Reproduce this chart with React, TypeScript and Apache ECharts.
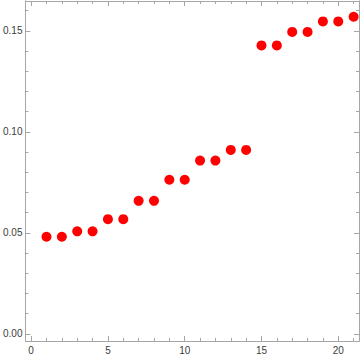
import React, { useEffect, useRef } from "react";
import * as echarts from "echarts";

const xValues = [1, 2, 3, 4, 5, 6, 7, 8, 9, 10, 11, 12, 13, 14, 15, 16, 17, 18, 19, 20, 21];
const yValues = [0.0481, 0.0481, 0.0508, 0.0508, 0.0568, 0.0568, 0.0659, 0.0659, 0.0763, 0.0763, 0.0858, 0.0858, 0.0911, 0.0911, 0.1428, 0.1428, 0.1495, 0.1495, 0.1547, 0.1547, 0.157];
const xMajor = [0, 5, 10, 15, 20];
const xMinor = [1, 2, 3, 4, 6, 7, 8, 9, 11, 12, 13, 14, 16, 17, 18, 19, 21];
const yMajor = [0, 0.05, 0.1, 0.15];
const yMinor = [0.01, 0.02, 0.03, 0.04, 0.06, 0.07, 0.08, 0.09, 0.11, 0.12, 0.13, 0.14, 0.16];

const X_MIN = -0.37, X_MAX = 21.35, Y_MIN = -0.0035, Y_MAX = 0.1648;
const frame = "#a6a6a6";
const labelColor = "#3c3c3c";

export default function App() {
  const ref = useRef<HTMLDivElement>(null);
  useEffect(() => {
    if (!ref.current) return;
    const chart = echarts.init(ref.current, undefined, { renderer: "svg" });
    const xAxis = (pos: string, ticks: number[], len: number, labels: boolean) => ({
      type: "value", position: pos, min: X_MIN, max: X_MAX, scale: true,
      axisLine: { show: true, onZero: false, lineStyle: { color: frame, width: 1 } },
      axisTick: { show: true, inside: true, length: len, customValues: ticks, lineStyle: { color: frame } },
      axisLabel: labels
        ? { show: true, customValues: xMajor, color: labelColor, fontSize: 10, fontFamily: "Liberation Sans", margin: 4, formatter: (v: number) => String(v) }
        : { show: false },
      splitLine: { show: false },
    });
    const yAxis = (pos: string, ticks: number[], len: number, labels: boolean) => ({
      type: "value", position: pos, min: Y_MIN, max: Y_MAX, scale: true,
      axisLine: { show: true, onZero: false, lineStyle: { color: frame, width: 1 } },
      axisTick: { show: true, inside: true, length: len, customValues: ticks, lineStyle: { color: frame } },
      axisLabel: labels
        ? { show: true, customValues: yMajor, color: labelColor, fontSize: 10, fontFamily: "Liberation Sans", margin: 3, formatter: (v: number) => v.toFixed(2) }
        : { show: false },
      splitLine: { show: false },
    });
    chart.setOption({
      animation: false,
      backgroundColor: "#ffffff",
      grid: { left: 20, right: 2, top: 1, bottom: 15, containLabel: false },
      xAxis: [
        xAxis("bottom", xMajor, 5, true),
        xAxis("bottom", xMinor, 3, false),
        xAxis("top", xMajor, 5, false),
        xAxis("top", xMinor, 3, false),
      ],
      yAxis: [
        yAxis("left", yMajor, 5, true),
        yAxis("left", yMinor, 3, false),
        yAxis("right", yMajor, 5, false),
        yAxis("right", yMinor, 3, false),
      ],
      series: [
        {
          type: "scatter",
          xAxisIndex: 0,
          yAxisIndex: 0,
          symbol: "circle",
          symbolSize: 10,
          itemStyle: { color: "#ff0000", opacity: 1 },
          data: xValues.map((x, i) => [x, yValues[i]]),
        },
      ],
    });
    return () => chart.dispose();
  }, []);
  return <div ref={ref} style={{ position: "fixed", left: 0, top: 0, width: 361, height: 356 }} />;
}
